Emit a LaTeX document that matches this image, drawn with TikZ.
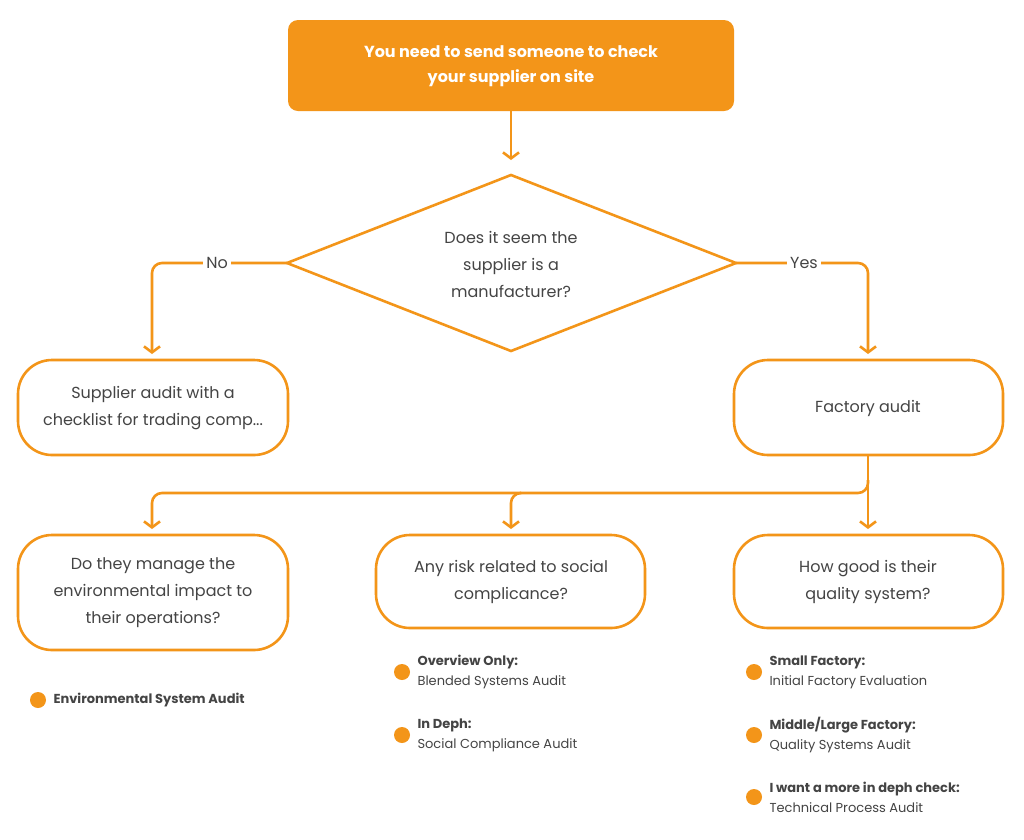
\documentclass[tikz,border=0pt]{standalone}
\usepackage{fontspec}
\setmainfont{Poppins}
\usetikzlibrary{arrows.meta,shapes.geometric}
\definecolor{org}{HTML}{F39519}
\definecolor{txt}{HTML}{444444}
\begin{document}
\begin{tikzpicture}[x=1pt,y=-1pt,
  ln/.style={draw=org,line width=2.6pt,rounded corners=10pt},
  arr/.style={ln,-{Straight Barb[length=6pt,width=16pt,line width=2.6pt]}},
  pill/.style={draw=org,line width=2.6pt,rounded corners=34pt,fill=white},
  lab/.style={text=txt,font=\fontsize{16}{27}\selectfont,align=center},
  bul/.style={circle,fill=org,minimum size=16pt,inner sep=0pt},
  btxt/.style={text=txt,font=\fontsize{13}{20}\selectfont,align=left,anchor=west}]
\useasboundingbox (0,0) rectangle (1024,839);
\fill[white] (0,0) rectangle (1024,839);
\fill[org,rounded corners=10pt] (288,20) rectangle (734,111);
\node[text=white,font=\fontsize{16}{25}\selectfont\bfseries,align=center] (top) at (511,66) {You need to send someone to check\\your supplier on site};
\coordinate (topb) at (511,111);
\draw[ln,line width=2.6pt,fill=white,sharp corners] (511,175) coordinate (dt) -- (736,263) coordinate (dr) -- (511,351) -- (287,263) coordinate (dl) -- cycle;
\node[lab] (dia) at (511,264) {Does it seem the\\supplier is a\\manufacturer?};
\draw[arr] (topb) -- (511,160);
\draw[arr] (dl) -- (152,263) -- (152,354);
\draw[arr] (dr) -- (868,263) -- (868,354);
\node[fill=white,text=txt,font=\fontsize{16}{20}\selectfont] (no) at (217,263) {No};
\node[fill=white,text=txt,font=\fontsize{16}{20}\selectfont] (yes) at (804,263) {Yes};
\draw[pill] (18,360) rectangle (288,455);
\node[lab] (sa) at (153,408) {Supplier audit with a\\checklist for trading comp...};
\draw[pill] (734,360) rectangle (1003,455);
\node[lab] (fa) at (868,408) {Factory audit};
\coordinate (fab) at (868,455);
\draw[arr] (fab) -- (868,529);
\draw[arr] (868,480) -- (868,493) -- (152,493) -- (152,529);
\draw[arr] (520,493) -- (511,493) -- (511,529);
\draw[pill] (18,535) rectangle (288,650);
\node[lab] (env) at (153,593) {Do they manage the\\environmental impact to\\their operations?};
\draw[pill] (376,535) rectangle (645,628);
\node[lab] (soc) at (511,582) {Any risk related to social\\complicance?};
\draw[pill] (734,535) rectangle (1003,628);
\node[lab] (qs) at (868,582) {How good is their\\quality system?};
\node[bul] (b1) at (38,700) {};
\node[btxt] (t1) at (50,700) {\bfseries Environmental System Audit};
\node[bul] (b2) at (402,672) {};
\node[btxt] (t2) at (414,672) {\bfseries Overview Only:\\Blended Systems Audit};
\node[bul] (b3) at (402,735) {};
\node[btxt] (t3) at (414,735) {\bfseries In Deph:\\Social Compliance Audit};
\node[bul] (b4) at (754,672) {};
\node[btxt] (t4) at (766,672) {\bfseries Small Factory:\\Initial Factory Evaluation};
\node[bul] (b5) at (754,735) {};
\node[btxt] (t5) at (766,735) {\bfseries Middle/Large Factory:\\Quality Systems Audit};
\node[bul] (b6) at (754,797) {};
\node[btxt] (t6) at (766,797) {\bfseries I want a more in deph check:\\Technical Process Audit};
\end{tikzpicture}
\end{document}
